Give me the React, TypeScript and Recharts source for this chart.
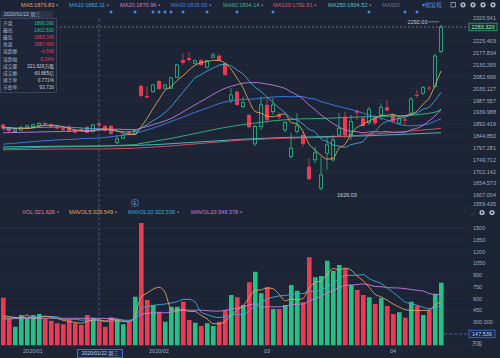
import React from 'react'
import {
  ComposedChart,
  Bar,
  Line,
  XAxis,
  YAxis,
  CartesianGrid,
  ReferenceLine,
  ReferenceDot,
  Cell,
} from 'recharts'

const BG = '#1c2436'
const RED = '#ec3a52'
const GREEN = '#27c083'
const GRID = '#252e44'
const AXIS_TEXT = '#a3acbf'
const FONT = "'Liberation Sans', 'Noto Sans CJK SC', sans-serif"

// daily OHLC
const opens = [1890,1878,1863,1869,1878,1883,1887,1897,1891,1883,1876,1882.7,1869.4,1873.4,1881.4,1862.6,1896.09,1885.5,1885.5,1818.4,1837,1862.6,1853.3,2046.1,2005.9,2023.3,2066.2,2037.4,2037.4,2081,2150.6,2158.6,2137.3,2150.6,2121.3,2161.4,2167.9,2137.3,1990,2023.3,1963,1929.6,1813.2,1882.7,1969.8,1942.9,1929.6,1869.4,1762.2,1862.6,1849.3,1721.9,1748.9,1635.2,1775.8,1748.9,1849.3,1922.8,1849.3,1946.9,1916.4,1898.7,1922.8,1929.6,1960.6,1929.6,1896.3,1912.4,1936.5,2010,2016.8,2039.3,2043.3,2185]
const highs = [1895,1882,1875,1884,1890,1895,1900,1901,1895,1887,1880,1888,1874,1878,1884,1893,1902.5,1890,1889,1849,1852,1866,1870,2052,2043,2055,2070,2054,2082,2135,2177.5,2181.5,2152,2155,2150,2179.9,2172,2140,2036.9,2028,2003,1935,1890,2003,1996.7,1996.7,1939,1905,1856,1936.5,1862.6,1756,1802,1762,1842,1849,1936.5,1943,1929.6,1950,1922.8,1962,1930,1976.6,1990,1935,1922,1922.8,2000,2030,2045,2046,2175,2292]
const lows = [1871,1861,1857,1865,1873,1877,1883,1885,1877,1871,1864,1858,1855,1862,1855,1858,1863.34,1862,1850,1812,1832,1850,1849,2000,1996,2018,2030,2030,2033,2078,2130.5,2143.8,2133,2126,2117,2158,2144,2087,1976.6,1966,1956.6,1876,1805,1869.4,1896.3,1929.6,1912,1860,1755,1856,1802,1668,1735,1626.03,1709,1742,1842,1836,1829,1909,1882.7,1889,1890,1909,1944,1898,1890,1889,1930,1996.7,2010,2027,2040,2178]
const closes = [1875,1865,1870,1880,1885,1890,1895,1892,1882,1875,1869,1862.6,1858.6,1865.4,1858.6,1889.5,1887.46,1865.4,1853.3,1833.2,1849,1853.3,1866.6,2005.9,2000.7,2050.2,2034.1,2050.2,2078.3,2130.5,2139.7,2150.6,2147.8,2130.5,2147.8,2170.7,2147.8,2090.3,2010,1969.8,1979,1880.2,1882.7,1969.8,1909.6,1969.8,1920.4,1898.7,1795.9,1885.5,1813.2,1671.3,1777.2,1688.6,1809.2,1829.2,1876.2,1849.3,1902.7,1938.9,1885.5,1952.5,1896.3,1960.6,1946.9,1902.7,1916.4,1906.8,1993.9,2006,2039.3,2036.9,2166.6,2283.32]

// moving averages of price
const ma5 = [1880,1879,1877,1876,1875,1878,1884,1888.4,1888.8,1886.8,1882.6,1876.1,1869.4,1866.1,1862.8,1866.9,1871.9,1873.3,1870.9,1865.8,1857.7,1850.8,1851.1,1881.6,1915.1,1955.3,1991.5,2028.2,2042.7,2068.7,2086.6,2109.9,2129.4,2139.8,2143.3,2149.5,2148.9,2137.4,2113.3,2077.7,2039.4,1985.9,1944.3,1936.3,1924.3,1922.4,1930.5,1933.7,1898.9,1894.1,1862.7,1812.9,1788.6,1767.2,1751.9,1755.1,1796.1,1810.5,1853.3,1879.3,1890.5,1905.8,1915.2,1926.8,1928.4,1931.8,1924.6,1926.7,1933.3,1945.2,1972.5,1996.6,2048.5,2106.4]
const ma10 = [1873,1874,1875,1876,1877,1878,1879,1880,1880.5,1880.9,1880.3,1880.1,1878.9,1877.5,1874.8,1874.8,1874,1871.4,1868.5,1864.3,1862.3,1861.4,1862.2,1876.2,1890.4,1906.5,1921.2,1939.7,1962.2,1991.9,2021,2050.7,2078.8,2091.3,2106,2118,2129.4,2133.4,2126.6,2110.5,2094.4,2067.4,2040.9,2024.8,2001,1980.9,1958.2,1939,1917.6,1909.2,1892.6,1871.7,1861.1,1833,1823,1808.9,1804.5,1799.6,1810.2,1815.6,1822.8,1850.9,1862.8,1890,1903.8,1911.2,1915.2,1920.9,1930.1,1936.8,1952.1,1960.6,1987.6,2019.9]
const ma20 = [1858,1858.5,1859,1859.5,1860,1860.5,1861,1861.5,1862,1862.5,1863,1864,1865,1866,1867,1868,1869,1870,1871.5,1872.7,1871.3,1870.8,1870.6,1876.9,1882.6,1890.7,1897.6,1905.6,1915.3,1928.1,1941.6,1956,1970.5,1983.7,1998.2,2012.3,2025.3,2036.5,2044.4,2051.2,2057.7,2059,2059.8,2058,2053.5,2049.5,2043.8,2036.2,2022.1,2009.8,1993.5,1969.5,1951,1928.9,1912,1894.9,1881.3,1869.3,1863.9,1862.4,1857.7,1861.3,1862,1861.5,1863.4,1860,1859.8,1860.2,1870.1,1876.2,1887.5,1905.8,1925.2,1955]
const ma30 = [1812,1814,1816,1818,1820,1822,1824,1826,1827,1829,1830,1831,1832,1834,1835,1836,1836.7,1839,1842,1845,1848,1851,1855,1862,1869,1877,1885,1894,1903,1912.4,1921.2,1930.7,1940,1948.3,1957.1,1966.4,1974.9,1981.5,1985.7,1988.9,1992.6,1993.2,1994,1997.4,1999.1,2001.8,2002.9,2004,2002.1,2003.8,2002.7,1996.6,1993.6,1983,1976.6,1969.3,1964,1957.3,1951.5,1945.1,1936.6,1930,1921.6,1916,1909.3,1900.3,1892.6,1886.5,1886,1887.2,1889.2,1894.4,1903.9,1914.3]
const ma60 = [1793,1794,1795,1796,1797,1798,1799,1800,1800,1801,1801,1802,1802,1803,1803,1804,1804.1,1805,1806,1807,1808,1809,1810,1815,1819,1823,1827,1831,1835,1840,1845,1850,1855,1860,1865,1870,1875,1879,1883,1887,1891,1894,1897,1900,1903,1906,1908,1910,1911,1913,1914,1914,1915,1915,1916,1917,1918,1919,1920,1921,1922,1923,1923,1924,1924,1925,1925,1926,1928,1930,1933,1936,1941,1948]
const ma120 = [1789,1789.5,1790,1790.3,1790.6,1791,1791.3,1791.6,1792,1792.2,1792.4,1792.5,1792.6,1792.7,1792.7,1792.8,1792.8,1793,1793.5,1794,1794.5,1795,1796,1797.5,1799,1800.5,1802,1803.5,1805,1807,1809,1811,1813,1815,1817,1819,1821,1823,1825,1827,1829,1830,1831,1832,1833,1834,1835,1836,1836.5,1837,1837.5,1838,1838.5,1839,1840,1841,1842,1843,1845,1847,1849,1851,1853,1855,1857,1859,1861,1863,1865,1867,1869,1871,1873,1876]
const ma250 = [1801,1801.3,1801.6,1802,1802.3,1802.6,1803,1803.3,1803.6,1803.9,1804,1804.1,1804.2,1804.3,1804.4,1804.5,1804.5,1804.7,1805,1805.4,1805.8,1806.3,1807,1808,1809,1810,1811,1812.5,1814,1815.5,1817,1818.5,1820,1821.5,1823,1824.5,1826,1827.5,1829,1830.5,1832,1833,1834,1835,1836,1837,1838,1839,1839.5,1840,1840.5,1841,1841.5,1842,1842.5,1843,1843.5,1844,1844.5,1845,1845.5,1846,1847,1848,1849,1850,1851,1852,1853,1854,1855,1856,1857,1858]

// volume (万股) and its averages
const volumes = [612,352,241,390,365,390,403,339,317,284,271,326,284,262,390,356,321.6,241,361,335,271,305,625,1568,582,518,433,305,497,497,561,326,292,250,284,250,305,454,646,617,518,810,945,668,745,467,467,518,774,701,553,1129,873,890,1085,957,1030,988,774,710,646,617,531,604,506,403,425,356,561,506,390,454,659,804]
const mavol5 = [380,370,360,352,392,348,358,377,363,347,323,307,296,285,307,324,329.5,314,334,323,306,303,379,621,670,720,745,681,467,450,459,437,435,385,343,280,276,309,388,454,508,609,707,712,737,727,658,573,594,585,603,735,806,829,906,987,967,990,967,892,830,747,656,622,581,532,494,459,450,450,448,453,514,563]
const mavol10 = [350,352,355,358,360,362,365,368,370,369,335,333,337,324,327,323,322.5,305,310,315,315,313,347,477,497,513,524,530,544,560,589,591,558,426,396,370,357,372,387,399,394,443,508,550,596,618,634,640,653,661,665,697,690,712,746,795,851,898,898,899,908,857,823,794,736,681,620,557,536,516,490,474,486,506]
const mavol20 = [340,342,344,345,346,347,348,348,349,349,349,348,348,348,348,348,348.4,346,344,342,325,323,342,401,412,418,420,418,427,437,452,452,452,452,446,441,440,451,465,479,492,517,533,488,496,494,495,506,520,530,530,570,599,631,671,706,742,769,775,780,787,777,756,753,741,738,736,728,717,707,699,665,655,650]

const priceTicks = [2320.541,2272.972,2225.403,2177.834,2130.265,2082.696,2035.127,1987.557,1939.988,1892.419,1844.85,1797.281,1749.712,1702.142,1654.573,1607.004,1559.435]
const volTicks = [300,450,600,750,900,1050,1200,1350,1500]
const monthTickIdx = [5, 26, 44, 65]
const monthTickText = ['2020/01', '2020/02', '03', '04']
const eventIdx = [18, 22, 25, 26, 27, 28, 30, 34, 39, 45, 61, 67, 69]
const crossIdx = 16
const lastClose = 2283.32
const lastVol = 147.539
const peak = { i: 73, v: 2292.0, text: '2292.00' }
const trough = { i: 53, v: 1626.03, text: '1626.03' }

const rows = opens.map((o, i) => ({
  i,
  open: o,
  high: highs[i],
  low: lows[i],
  close: closes[i],
  range: [lows[i], highs[i]],
  ma5: ma5[i],
  ma10: ma10[i],
  ma20: ma20[i],
  ma30: ma30[i],
  ma60: ma60[i],
  ma120: ma120[i],
  ma250: ma250[i],
  vol: volumes[i],
  mavol5: mavol5[i],
  mavol10: mavol10[i],
  mavol20: mavol20[i],
}))

const C = {
  ma5: '#e5a15b',
  ma10: '#3fa8d8',
  ma20: '#c27cdd',
  ma30: '#3f7fe6',
  ma60: '#36b884',
  ma120: '#e0505f',
  ma250: '#47c7cc',
  ma500: '#6e7689',
  vol: '#e0809c',
}

const topLegend = [
  { t: 'MA5:1876.83', c: C.ma5, x: 21 },
  { t: 'MA10:1882.11', c: C.ma10, x: 69 },
  { t: 'MA20:1870.96', c: C.ma20, x: 120 },
  { t: 'MA30:1836.69', c: C.ma30, x: 171 },
  { t: 'MA60:1804.14', c: C.ma60, x: 223 },
  { t: 'MA120:1792.81', c: C.ma120, x: 273 },
  { t: 'MA250:1804.52', c: C.ma250, x: 328 },
  { t: 'MA500', c: C.ma500, x: 382 },
]
const volLegend = [
  { t: 'VOL:321.626', c: C.vol, x: 22 },
  { t: 'MAVOL5:329.549', c: C.ma5, x: 69 },
  { t: 'MAVOL10:322.536', c: C.ma10, x: 128 },
  { t: 'MAVOL20:348.378', c: C.ma20, x: 191 },
]
const infoRows = [
  ['开盘', '1896.090', GREEN],
  ['最高', '1902.500', GREEN],
  ['最低', '1863.340', RED],
  ['收盘', '1887.460', RED],
  ['涨跌额', '-4.540', RED],
  ['涨跌幅', '-0.24%', RED],
  ['成交量', '321.626万股', '#c9d0dc'],
  ['成交额', '60.865亿', '#c9d0dc'],
  ['换手率', '0.771%', '#c9d0dc'],
  ['市盈率', '93.716', '#c9d0dc'],
]

function Candle(props: any) {
  const { x, y, width, height, payload } = props
  if (!payload || height == null) return null
  const { open, close, high, low } = payload
  const up = close >= open
  const color = up ? GREEN : RED
  const k = height / Math.max(high - low, 1e-6)
  const yO = y + (high - open) * k
  const yC = y + (high - close) * k
  const top = Math.min(yO, yC)
  const h = Math.max(Math.abs(yO - yC), 0.8)
  const cx = x + width / 2
  if (up) {
    return (
      <g>
        <line x1={cx} x2={cx} y1={y} y2={top} stroke={color} strokeWidth={0.8} />
        <line x1={cx} x2={cx} y1={top + h} y2={y + height} stroke={color} strokeWidth={0.8} />
        <rect x={x + 0.4} y={top} width={width - 0.8} height={h} fill={BG} stroke={color} strokeWidth={0.8} />
      </g>
    )
  }
  return (
    <g>
      <line x1={cx} x2={cx} y1={y} y2={y + height} stroke={color} strokeWidth={0.8} />
      <rect x={x} y={top} width={width} height={h} fill={color} />
    </g>
  )
}

const PriceTick = (props: any) => {
  const { x, y, payload } = props
  const v = payload.value
  if (v === 2272.972) return <g />
  const shift = v === 1559.435 ? -3.5 : 0
  return (
    <text x={x} y={y + shift} dy={2} fontSize={5.5} fill={AXIS_TEXT} textAnchor="start">
      {v.toFixed(3)}
    </text>
  )
}

const VolTick = (props: any) => {
  const { x, y, payload } = props
  const v = payload.value
  return (
    <text x={x} y={y} dy={2} fontSize={5.5} fill={AXIS_TEXT} textAnchor="start">
      {v === 300 ? '300.000' : String(v)}
    </text>
  )
}

const DateTick = (props: any) => {
  const { x, y, payload } = props
  const k = monthTickIdx.indexOf(payload.value)
  if (k < 0) return <g />
  return (
    <text x={x} y={y} dy={5} fontSize={5.5} fill={AXIS_TEXT} textAnchor="middle">
      {monthTickText[k]}
    </text>
  )
}

const lineProps = {
  type: 'monotone' as const,
  dot: false,
  strokeWidth: 0.9,
  isAnimationActive: false,
  activeDot: false,
}

export default function App() {
  return (
    <div
      style={{
        position: 'absolute',
        left: 0,
        top: 0,
        width: 500,
        height: 358,
        background: BG,
        overflow: 'hidden',
        fontFamily: FONT,
      }}
    >
      <div style={{ position: 'absolute', left: 0, top: 0 }}>
        <ComposedChart width={500} height={207} data={rows} margin={{ top: 17.7, right: 0, bottom: 0, left: 0 }}>
          <CartesianGrid vertical={false} stroke={GRID} strokeWidth={0.6} />
          <XAxis dataKey="i" type="category" hide padding={{ left: 0, right: 26 }} />
          <YAxis
            orientation="right"
            width={30}
            domain={[1559.435, 2320.541]}
            allowDataOverflow
            ticks={priceTicks}
            interval={0}
            tickSize={0}
            tickMargin={3}
            axisLine={false}
            tick={<PriceTick />}
          />
          <ReferenceLine x={crossIdx} stroke="#5b6f98" strokeDasharray="3 2" strokeWidth={0.7} />
          <Bar dataKey="range" barSize={4} isAnimationActive={false} shape={(p: any) => <Candle {...p} />} />
          <Line dataKey="ma250" stroke={C.ma250} {...lineProps} />
          <Line dataKey="ma120" stroke={C.ma120} {...lineProps} />
          <Line dataKey="ma60" stroke={C.ma60} {...lineProps} />
          <Line dataKey="ma30" stroke={C.ma30} {...lineProps} />
          <Line dataKey="ma20" stroke={C.ma20} {...lineProps} />
          <Line dataKey="ma10" stroke={C.ma10} {...lineProps} />
          <Line dataKey="ma5" stroke={C.ma5} {...lineProps} />
          <ReferenceLine
            y={lastClose}
            stroke="#8f9489"
            strokeDasharray="2 2"
            strokeWidth={0.7}
            label={(p: any) => {
              const vb = p.viewBox || {}
              const rx = (vb.x || 0) + (vb.width || 0) - 1
              const ry = vb.y || 0
              return (
                <g>
                  <rect x={rx} y={ry - 3.8} width={28} height={7.6} fill="#17302c" stroke={GREEN} strokeWidth={0.7} />
                  <text x={rx + 14} y={ry + 2} fontSize={5.5} fill="#9ff0cf" textAnchor="middle">
                    {lastClose.toFixed(3)}
                  </text>
                </g>
              )
            }}
          />
          {eventIdx.map((ei) => (
            <ReferenceDot key={ei} x={ei} y={2343} r={1.5} fill="#3d8be0" stroke="none" ifOverflow="visible" />
          ))}
          <ReferenceDot
            x={22}
            y={1576}
            ifOverflow="visible"
            shape={(p: any) => (
              <g>
                <circle cx={p.cx} cy={p.cy} r={3.6} fill={BG} stroke="#3d8be0" strokeWidth={0.7} />
                <text x={p.cx} y={p.cy + 1.8} fontSize={4.6} fill="#6fa8ee" textAnchor="middle">E</text>
              </g>
            )}
          />
          <ReferenceDot
            x={peak.i}
            y={peak.v}
            ifOverflow="visible"
            shape={(p: any) => (
              <g>
                <line x1={p.cx - 13} x2={p.cx - 2} y1={p.cy - 3} y2={p.cy - 3} stroke="#c9d0dc" strokeWidth={0.5} />
                <text x={p.cx - 13.5} y={p.cy - 1.2} fontSize={5.5} fill="#c9d0dc" textAnchor="end">{peak.text}</text>
              </g>
            )}
          />
          <ReferenceDot
            x={trough.i}
            y={trough.v}
            ifOverflow="visible"
            shape={(p: any) => (
              <g>
                <text x={p.cx + 26} y={p.cy + 7} fontSize={5.5} fill="#c9d0dc" textAnchor="middle">{trough.text}</text>
              </g>
            )}
          />
        </ComposedChart>
      </div>

      <div style={{ position: 'absolute', left: 0, top: 207 }}>
        <ComposedChart width={500} height={151} data={rows} margin={{ top: 0, right: 0, bottom: 0, left: 0 }}>
          <CartesianGrid vertical={false} stroke={GRID} strokeWidth={0.6} />
          <XAxis
            dataKey="i"
            type="category"
            height={12.5}
            padding={{ left: 0, right: 26 }}
            interval={0}
            tickSize={0}
            tickMargin={2}
            axisLine={false}
            tick={<DateTick />}
          />
          <YAxis
            orientation="right"
            width={30}
            domain={[0, 1772.8]}
            allowDataOverflow
            ticks={volTicks}
            interval={0}
            tickSize={0}
            tickMargin={3}
            axisLine={false}
            tick={<VolTick />}
          />
          <ReferenceLine x={crossIdx} stroke="#5b6f98" strokeDasharray="3 2" strokeWidth={0.7} />
          <Bar dataKey="vol" barSize={4.6} isAnimationActive={false}>
            {rows.map((r) => (
              <Cell key={r.i} fill={r.close >= r.open ? GREEN : RED} />
            ))}
          </Bar>
          <Line dataKey="mavol20" stroke={C.ma20} {...lineProps} />
          <Line dataKey="mavol10" stroke={C.ma10} {...lineProps} />
          <Line dataKey="mavol5" stroke={C.ma5} {...lineProps} />
          <ReferenceDot
            x={73}
            y={lastVol}
            ifOverflow="visible"
            shape={(p: any) => (
              <g>
                <line x1={p.cx + 3} x2={470} y1={p.cy} y2={p.cy} stroke="#5a7bbf" strokeDasharray="3 2" strokeWidth={0.7} />
                <rect x={469} y={p.cy - 3.8} width={26} height={7.6} fill="#1a2a4a" stroke="#4a7fe0" strokeWidth={0.7} />
                <text x={482} y={p.cy + 2} fontSize={5.5} fill="#b9cdf2" textAnchor="middle">{lastVol.toFixed(3)}</text>
              </g>
            )}
          />
        </ComposedChart>
      </div>

      {/* top MA legend */}
      {topLegend.map((l) => (
        <div
          key={l.t}
          style={{ position: 'absolute', left: l.x, top: 1.5, fontSize: 5.6, lineHeight: '7px', color: l.c, whiteSpace: 'nowrap' }}
        >
          {l.t}
          {l.t !== 'MA500' && <span style={{ color: '#8c94a6', marginLeft: 2 }}>▪</span>}
        </div>
      ))}
      <div style={{ position: 'absolute', left: 422, top: 1.5, fontSize: 5.6, lineHeight: '7px', color: '#4a90e2', whiteSpace: 'nowrap' }}>
        ▾前复权
      </div>
      <svg style={{ position: 'absolute', left: 448, top: 0 }} width={52} height={10}>
        <rect x={3} y={2.5} width={4.5} height={4.5} fill="none" stroke="#9aa3b5" strokeWidth={0.8} />
        {[15, 25, 35, 45].map((cx) => (
          <g key={cx}>
            <circle cx={cx} cy={4.8} r={2.6} fill="#aeb6c6" />
            <circle cx={cx} cy={4.8} r={1} fill={BG} />
          </g>
        ))}
      </svg>

      {/* info panel */}
      <div
        style={{
          position: 'absolute',
          left: 1,
          top: 10.5,
          width: 49,
          height: 7.5,
          background: '#2a3347',
          color: '#b8c0d0',
          fontSize: 5,
          lineHeight: '7.5px',
          paddingLeft: 3,
          whiteSpace: 'nowrap',
        }}
      >
        2020/01/22 周三
      </div>
      <div
        style={{
          position: 'absolute',
          left: 0,
          top: 18,
          width: 55,
          height: 73,
          background: 'rgba(30,38,56,0.92)',
          border: '0.7px solid #3a4459',
        }}
      >
        {infoRows.map((r, k) => (
          <div
            key={r[0]}
            style={{
              position: 'absolute',
              left: 2,
              right: 2,
              top: 0.5 + k * 7.2,
              height: 7,
              fontSize: 4.8,
              lineHeight: '7px',
              whiteSpace: 'nowrap',
            }}
          >
            <span style={{ color: '#a8b0c0' }}>{r[0]}</span>
            <span style={{ position: 'absolute', right: 0, color: r[2] }}>{r[1]}</span>
          </div>
        ))}
      </div>

      {/* volume legend */}
      {volLegend.map((l) => (
        <div
          key={l.t}
          style={{ position: 'absolute', left: l.x, top: 209, fontSize: 5.6, lineHeight: '7px', color: l.c, whiteSpace: 'nowrap' }}
        >
          {l.t}
          <span style={{ color: '#8c94a6', marginLeft: 2 }}>▪</span>
        </div>
      ))}
      <svg style={{ position: 'absolute', left: 468, top: 208 }} width={32} height={10}>
        <text x={3} y={7} fontSize={5} fill="#5d667a">⤢</text>
        <circle cx={14} cy={4.5} r={2.6} fill="#aeb6c6" />
        <circle cx={14} cy={4.5} r={1} fill={BG} />
        <circle cx={24} cy={4.5} r={2.6} fill="#aeb6c6" />
        <circle cx={24} cy={4.5} r={1} fill={BG} />
      </svg>
      <div style={{ position: 'absolute', left: 472, top: 339.5, fontSize: 5, lineHeight: '7px', color: AXIS_TEXT }}>万股</div>

      {/* crosshair date tag */}
      <div
        style={{
          position: 'absolute',
          left: 77,
          top: 348.5,
          width: 44,
          height: 7,
          border: '0.7px solid #3f6fd0',
          background: '#1a2a4a',
          color: '#c8d3ea',
          fontSize: 5,
          lineHeight: '7px',
          textAlign: 'center',
          whiteSpace: 'nowrap',
        }}
      >
        2020/01/22 周三
      </div>
    </div>
  )
}
